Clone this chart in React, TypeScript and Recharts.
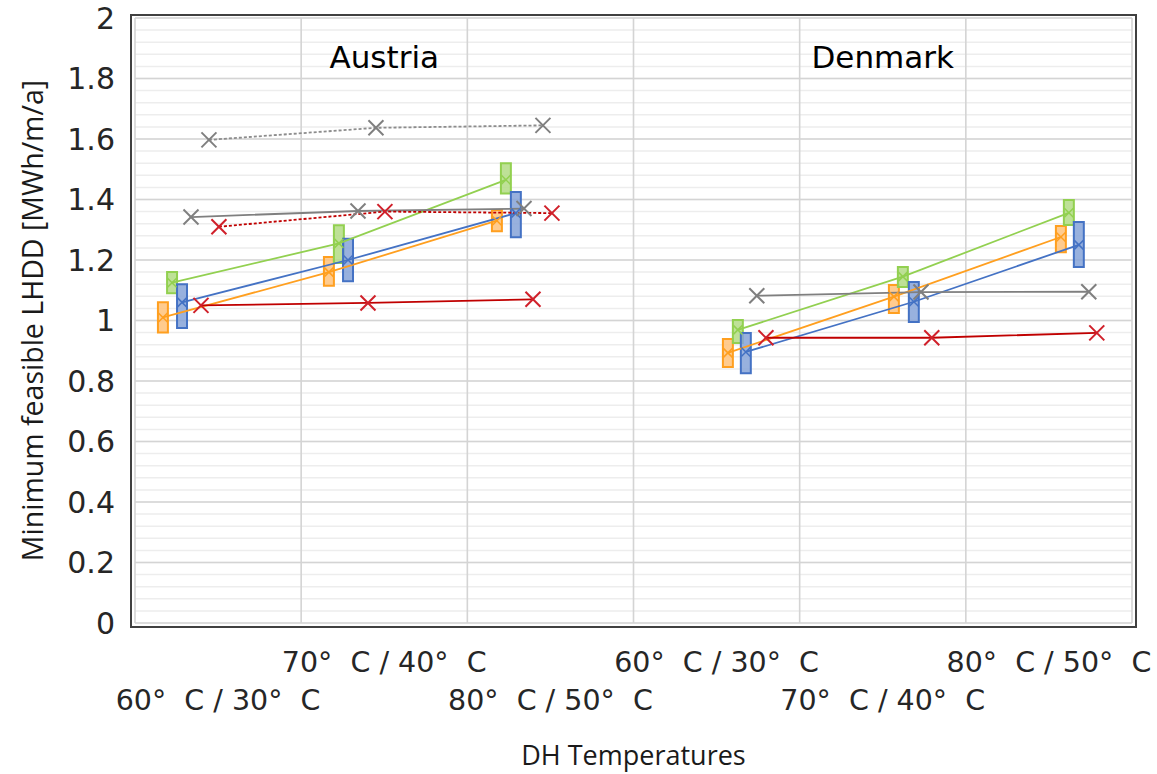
import React from "react";
import {
  ComposedChart,
  Line,
  XAxis,
  YAxis,
  CartesianGrid,
  ReferenceArea,
  ReferenceDot,
  Label,
} from "recharts";

// categories (DH supply / return temperatures), two countries
const X_TICKS = [0.5, 1.5, 2.5, 3.5, 4.5, 5.5];
const X_TICK_LABELS = [
  "60°\u00a0 C / 30°\u00a0 C",
  "70°\u00a0 C / 40°\u00a0 C",
  "80°\u00a0 C / 50°\u00a0 C",
  "60°\u00a0 C / 30°\u00a0 C",
  "70°\u00a0 C / 40°\u00a0 C",
  "80°\u00a0 C / 50°\u00a0 C",
];
const X_GRID = [0, 1, 2, 3, 4, 5, 6];
const Y_TICKS = [0, 0.2, 0.4, 0.6, 0.8, 1, 1.2, 1.4, 1.6, 1.8, 2];
const Y_MINOR = Array.from({ length: 51 }, (_, i) => +(i * 0.04).toFixed(2));

const COUNTRIES = ["Austria", "Denmark"];
const COUNTRY_X = [1.5, 4.5];
const COUNTRY_Y = 1.87;

// Austria
const AT_ORANGE_X = [0.168, 1.167, 2.178];
const AT_ORANGE = [1.01, 1.16, 1.33];
const AT_ORANGE_LOW = [0.96, 1.115, 1.295];
const AT_ORANGE_HIGH = [1.06, 1.21, 1.365];

const AT_GREEN_X = [0.223, 1.227, 2.232];
const AT_GREEN = [1.125, 1.255, 1.465];
const AT_GREEN_LOW = [1.09, 1.19, 1.42];
const AT_GREEN_HIGH = [1.16, 1.315, 1.52];

const AT_BLUE_X = [0.283, 1.282, 2.292];
const AT_BLUE = [1.06, 1.2, 1.355];
const AT_BLUE_LOW = [0.975, 1.13, 1.275];
const AT_BLUE_HIGH = [1.12, 1.27, 1.425];

const AT_GRAY_X = [0.337, 1.342, 2.341];
const AT_GRAY = [1.342, 1.362, 1.37];

const AT_RED_X = [0.397, 1.402, 2.395];
const AT_RED = [1.05, 1.058, 1.07];

const AT_GRAY_DASH_X = [0.445, 1.45, 2.455];
const AT_GRAY_DASH = [1.597, 1.637, 1.645];

const AT_RED_DASH_X = [0.505, 1.504, 2.509];
const AT_RED_DASH = [1.31, 1.36, 1.355];

// Denmark
const DK_ORANGE_X = [3.568, 4.567, 5.572];
const DK_ORANGE = [0.893, 1.079, 1.276];
const DK_ORANGE_LOW = [0.846, 1.025, 1.226];
const DK_ORANGE_HIGH = [0.939, 1.117, 1.312];

const DK_GREEN_X = [3.628, 4.621, 5.62];
const DK_GREEN = [0.969, 1.145, 1.356];
const DK_GREEN_LOW = [0.926, 1.111, 1.316];
const DK_GREEN_HIGH = [1.002, 1.177, 1.398];

const DK_BLUE_X = [3.676, 4.687, 5.68];
const DK_BLUE = [0.896, 1.062, 1.25];
const DK_BLUE_LOW = [0.826, 0.995, 1.177];
const DK_BLUE_HIGH = [0.959, 1.127, 1.326];

const DK_GRAY_X = [3.742, 4.73, 5.74];
const DK_GRAY = [1.082, 1.094, 1.095];

const DK_RED_X = [3.797, 4.795, 5.788];
const DK_RED = [0.943, 0.943, 0.959];

const ORANGE = "#FF9F1F";
const ORANGE_FILL = "#FFC27A";
const GREEN = "#92D050";
const GREEN_FILL = "#B3DC85";
const BLUE = "#4472C4";
const BLUE_FILL = "#86A3D8";
const GRAY = "#7F7F7F";
const RED = "#C00000";
const RED_MARK = "#D0202A";
const BOX_HALF = 0.03;

interface Series {
  key: string;
  xs: number[];
  ys: number[];
  lows?: number[];
  highs?: number[];
  color: string;
  mark?: string;
  fill?: string;
  dash?: string;
  big?: boolean;
}

const SERIES: Series[] = [
  { key: "at-orange", xs: AT_ORANGE_X, ys: AT_ORANGE, lows: AT_ORANGE_LOW, highs: AT_ORANGE_HIGH, color: ORANGE, fill: ORANGE_FILL },
  { key: "at-green", xs: AT_GREEN_X, ys: AT_GREEN, lows: AT_GREEN_LOW, highs: AT_GREEN_HIGH, color: GREEN, fill: GREEN_FILL },
  { key: "at-blue", xs: AT_BLUE_X, ys: AT_BLUE, lows: AT_BLUE_LOW, highs: AT_BLUE_HIGH, color: BLUE, fill: BLUE_FILL },
  { key: "at-gray", xs: AT_GRAY_X, ys: AT_GRAY, color: GRAY, big: true },
  { key: "at-red", xs: AT_RED_X, ys: AT_RED, color: RED, mark: RED_MARK, big: true },
  { key: "at-gray-d", xs: AT_GRAY_DASH_X, ys: AT_GRAY_DASH, color: "#8C8C8C", mark: GRAY, dash: "3 2", big: true },
  { key: "at-red-d", xs: AT_RED_DASH_X, ys: AT_RED_DASH, color: RED, mark: RED_MARK, dash: "3 2", big: true },
  { key: "dk-orange", xs: DK_ORANGE_X, ys: DK_ORANGE, lows: DK_ORANGE_LOW, highs: DK_ORANGE_HIGH, color: ORANGE, fill: ORANGE_FILL },
  { key: "dk-green", xs: DK_GREEN_X, ys: DK_GREEN, lows: DK_GREEN_LOW, highs: DK_GREEN_HIGH, color: GREEN, fill: GREEN_FILL },
  { key: "dk-blue", xs: DK_BLUE_X, ys: DK_BLUE, lows: DK_BLUE_LOW, highs: DK_BLUE_HIGH, color: BLUE, fill: BLUE_FILL },
  { key: "dk-gray", xs: DK_GRAY_X, ys: DK_GRAY, color: GRAY, big: true },
  { key: "dk-red", xs: DK_RED_X, ys: DK_RED, color: RED, mark: RED_MARK, big: true },
];

function Cross({ cx, cy, size, color, width }: { cx: number; cy: number; size: number; color: string; width: number }) {
  if (cx == null || cy == null) return null;
  return (
    <g>
      <line x1={cx - size} y1={cy - size} x2={cx + size} y2={cy + size} stroke={color} strokeWidth={width} />
      <line x1={cx - size} y1={cy + size} x2={cx + size} y2={cy - size} stroke={color} strokeWidth={width} />
    </g>
  );
}

function XTick(props: any) {
  const { x, y, index, payload } = props;
  const upper = index % 2 === 1;
  const i = X_TICKS.indexOf(payload.value);
  return (
    <text
      x={x}
      y={y + (upper ? 49 : 87)}
      textAnchor="middle"
      fontSize={28.5}
      fontFamily="DejaVu Sans"
      fill="#262626"
    >
      {X_TICK_LABELS[i >= 0 ? i : index]}
    </text>
  );
}

function YTitle(props: any) {
  const { x, y, height } = props.viewBox;
  const cx = x + 32;
  const cy = y + height / 2;
  return (
    <text
      x={cx}
      y={cy}
      transform={`rotate(-90, ${cx}, ${cy})`}
      textAnchor="middle"
      dominantBaseline="central"
      fontSize={28.5}
      fontFamily="Open Sans"
      fill="#1a1a1a"
    >
      Minimum feasible LHDD [MWh/m/a]
    </text>
  );
}

function XTitle(props: any) {
  const { x, y, width } = props.viewBox;
  return (
    <text x={x + width / 2} y={y + 142} textAnchor="middle" fontSize={27} fontFamily="Open Sans" fill="#1a1a1a">
      DH Temperatures
    </text>
  );
}

export default function App() {
  return (
    <div style={{ position: "absolute", left: 0, top: 0, width: 1157, height: 774, background: "#fff", fontFamily: "DejaVu Sans" }}>
      <ComposedChart width={1157} height={774} margin={{ top: 18, right: 25, left: 0, bottom: 0 }}>
        <CartesianGrid horizontalValues={Y_MINOR} vertical={false} stroke="#EDEDED" strokeWidth={1.5} />
        <CartesianGrid horizontalValues={Y_TICKS} verticalValues={X_GRID} stroke="#D4D4D4" strokeWidth={1.6} />
        <XAxis
          type="number"
          dataKey="x"
          domain={[0, 6]}
          ticks={X_TICKS}
          interval={0}
          allowDataOverflow
          tickLine={false}
          axisLine={false}
          tickSize={0}
          tickMargin={0}
          height={151}
          tick={<XTick />}
        >
          <Label content={XTitle} />
        </XAxis>
        <YAxis
          type="number"
          domain={[0, 2]}
          ticks={Y_TICKS}
          interval={0}
          allowDataOverflow
          tickLine={false}
          axisLine={false}
          tickSize={0}
          tickMargin={20}
          width={135}
          tick={{ fontSize: 30, fill: "#262626", fontFamily: "DejaVu Sans" }}
        >
          <Label content={YTitle} />
        </YAxis>
        {SERIES.filter((s) => s.lows).flatMap((s) =>
          s.xs.map((x, i) => (
            <ReferenceArea
              key={`${s.key}-box-${i}`}
              x1={x - BOX_HALF}
              x2={x + BOX_HALF}
              y1={s.lows![i]}
              y2={s.highs![i]}
              fill={s.fill}
              fillOpacity={0.85}
              stroke={s.color}
              strokeWidth={2}
              ifOverflow="visible"
            />
          ))
        )}
        {SERIES.map((s) => (
          <Line
            key={s.key}
            data={s.xs.map((x, i) => ({ x, y: s.ys[i] }))}
            dataKey="y"
            type="linear"
            stroke={s.color}
            strokeWidth={1.8}
            strokeDasharray={s.dash}
            activeDot={false}
            legendType="none"
            isAnimationActive={false}
            dot={(p: any) => (
              <Cross
                key={`${s.key}-dot-${p.index}`}
                cx={p.cx}
                cy={p.cy}
                size={s.big ? 7.5 : 4.5}
                color={s.mark ?? s.color}
                width={s.big ? 2 : 1.5}
              />
            )}
          />
        ))}
        {COUNTRIES.map((c, i) => (
          <ReferenceDot
            key={c}
            x={COUNTRY_X[i]}
            y={COUNTRY_Y}
            r={0}
            fill="none"
            stroke="none"
            label={{ value: c, position: "center", fontSize: 31, fill: "#000", fontFamily: "DejaVu Sans" }}
          />
        ))}
      </ComposedChart>
      <div
        style={{
          position: "absolute",
          left: 130,
          top: 14,
          width: 1007,
          height: 614,
          boxSizing: "border-box",
          border: "2.5px solid #404040",
          pointerEvents: "none",
        }}
      />
    </div>
  );
}
